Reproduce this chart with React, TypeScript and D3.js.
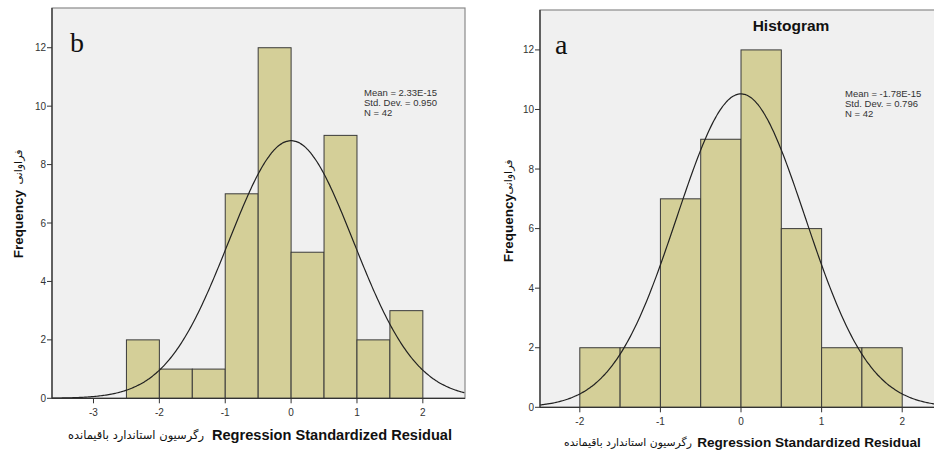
import React from 'react';
import * as d3 from 'd3';

// panel b (left)
const binEdgesB = [-2.5, -2, -1.5, -1, -0.5, 0, 0.5, 1, 1.5, 2];
const countsB = [2, 1, 1, 7, 12, 5, 9, 2, 3];
const xTicksB = [-3, -2, -1, 0, 1, 2];
const statsB = ['Mean = 2.33E-15', 'Std. Dev. = 0.950', 'N = 42'];
const meanB = 2.33e-15;
const sdB = 0.95;

// panel a (right)
const binEdgesA = [-2, -1.5, -1, -0.5, 0, 0.5, 1, 1.5, 2];
const countsA = [2, 2, 7, 9, 12, 6, 2, 2];
const xTicksA = [-2, -1, 0, 1, 2];
const statsA = ['Mean = -1.78E-15', 'Std. Dev. = 0.796', 'N = 42'];
const meanA = -1.78e-15;
const sdA = 0.796;

const yTicks = [0, 2, 4, 6, 8, 10, 12];
const N = 42;
const xLabel = 'Regression Standardized Residual';
const xLabelFa = 'رگرسیون استاندارد باقیمانده';
const yLabel = 'Frequency';
const yLabelFa = 'فراوانی';

const FILL = '#d4cf98';
const BG = '#f0f0f0';
const SANS = 'Arial, "Liberation Sans", sans-serif';
const FA = '"DejaVu Sans", sans-serif';

const Panel = ({ id, box, xDomain, yDomain, edges, counts, xTicks, stats, mean, sd, letter, title, statsPos, xLab, yLab }) => {
  const x = d3.scaleLinear().domain(xDomain).range([box.left, box.right]);
  const y = d3.scaleLinear().domain(yDomain).range([box.bottom, box.top]);
  const bw = edges[1] - edges[0];

  // fitted normal curve from the stated mean / sd / N
  const pdf = v => Math.exp(-0.5 * ((v - mean) / sd) ** 2) / (sd * Math.sqrt(2 * Math.PI));
  const pts = d3.range(xDomain[0], xDomain[1] + 0.01, 0.02).map(v => [v, N * bw * pdf(v)]);
  const line = d3.line().x(d => x(d[0])).y(d => y(d[1])).curve(d3.curveBasis);

  return (
    <g>
      <defs>
        <clipPath id={id}>
          <rect x={box.left} y={box.top} width={box.right - box.left} height={box.bottom - box.top} />
        </clipPath>
      </defs>
      <rect x={box.left} y={box.top} width={box.right - box.left} height={box.bottom - box.top} fill={BG} stroke="#8a8a8a" strokeWidth={1.2} />
      {counts.map((c, i) => (
        <rect key={i} x={x(edges[i])} y={y(c)} width={x(edges[i + 1]) - x(edges[i])} height={y(0) - y(c)}
          fill={FILL} stroke="#3a3a3a" strokeWidth={1} />
      ))}
      <path d={line(pts)} fill="none" stroke="#222" strokeWidth={1.2} clipPath={`url(#${id})`} />
      {/* axes */}
      <line x1={box.left} x2={box.left} y1={box.top} y2={box.bottom} stroke="#333" strokeWidth={1.3} />
      <line x1={box.left} x2={box.right} y1={box.bottom} y2={box.bottom} stroke="#333" strokeWidth={1.3} />
      {yTicks.map(t => (
        <g key={t}>
          <line x1={box.left - 5} x2={box.left} y1={y(t)} y2={y(t)} stroke="#333" />
          <text x={box.left - 6} y={y(t)} dy="0.35em" textAnchor="end" fontSize={10} fontFamily={SANS} fill="#333">{t}</text>
        </g>
      ))}
      {xTicks.map(t => (
        <g key={t}>
          <line x1={x(t)} x2={x(t)} y1={box.bottom} y2={box.bottom + 5} stroke="#333" />
          <text x={x(t)} y={box.bottom + 14} dy="0.35em" textAnchor="middle" fontSize={10} fontFamily={SANS} fill="#333">{t}</text>
        </g>
      ))}
      <text x={letter.x} y={letter.y} fontSize={28} fontFamily='"Liberation Serif", "Times New Roman", serif' fill="#111">{letter.text}</text>
      {title && (
        <text x={title.x} y={title.y} dy="0.35em" textAnchor="middle" fontSize={15.5} fontWeight="bold" fontFamily={SANS} fill="#111">{title.text}</text>
      )}
      {stats.map((s, i) => (
        <text key={i} x={statsPos.x} y={statsPos.y + i * 9.8} dy="0.35em" fontSize={9.5} fontFamily={SANS} fill="#333">{s}</text>
      ))}
      <text x={xLab.en} y={xLab.y} dy="0.35em" textAnchor="middle" fontSize={xLab.size} fontWeight="bold" fontFamily={SANS} fill="#111">{xLabel}</text>
      <text x={xLab.fa} y={xLab.y} dy="0.35em" textAnchor="middle" fontSize={xLab.faSize} fontFamily={FA} fill="#111">{xLabelFa}</text>
      <text transform={`translate(${yLab.x},${yLab.en}) rotate(-90)`} dy="0.35em" textAnchor="middle" fontSize={13.5} fontWeight="bold" fontFamily={SANS} fill="#111">{yLabel}</text>
      <text transform={`translate(${yLab.x},${yLab.fa}) rotate(-90)`} dy="0.35em" textAnchor="middle" fontSize={11} fontFamily={FA} fill="#111">{yLabelFa}</text>
    </g>
  );
};

export default function App() {
  return (
    <svg width={934} height={450} style={{ position: 'absolute', left: 0, top: 0, background: '#fff' }}>
      <Panel id="clipB" box={{ left: 52, right: 465, top: 8, bottom: 398.3 }}
        xDomain={[-3.63, 2.64]} yDomain={[0, 13.36]}
        edges={binEdgesB} counts={countsB} xTicks={xTicksB} stats={statsB} mean={meanB} sd={sdB}
        letter={{ text: 'b', x: 70, y: 52 }} title={null} statsPos={{ x: 364, y: 93 }}
        xLab={{ en: 332, fa: 136, y: 435, size: 14.6, faSize: 11.5 }} yLab={{ x: 18, en: 224, fa: 167 }} />
      <Panel id="clipA" box={{ left: 540, right: 960, top: 10, bottom: 407.3 }}
        xDomain={[-2.494, 2.717]} yDomain={[0, 13.34]}
        edges={binEdgesA} counts={countsA} xTicks={xTicksA} stats={statsA} mean={meanA} sd={sdA}
        letter={{ text: 'a', x: 555, y: 54 }} title={{ text: 'Histogram', x: 791, y: 26 }} statsPos={{ x: 845, y: 94 }}
        xLab={{ en: 809, fa: 628, y: 442, size: 13.6, faSize: 10.8 }} yLab={{ x: 508, en: 228, fa: 177 }} />
    </svg>
  );
}
